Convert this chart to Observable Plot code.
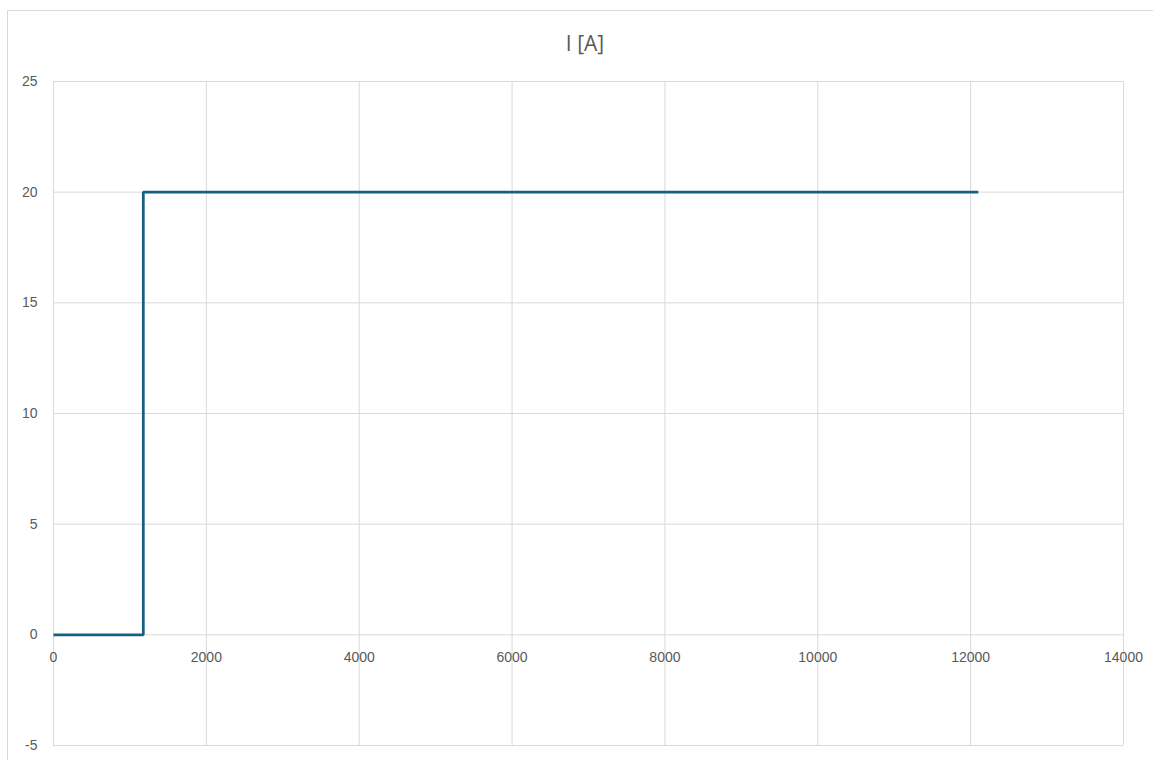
<!DOCTYPE html>
<html>
<head>
<meta charset="utf-8">
<script src="https://cdn.jsdelivr.net/npm/d3@7"></script>
<script src="https://cdn.jsdelivr.net/npm/@observablehq/plot@0.6"></script>
<style>
  html, body { margin: 0; padding: 0; background: #fff; }
  #chart {
    position: relative;
    width: 1153px;
    height: 760px;
    overflow: hidden;
    font-family: "Liberation Sans", Arial, sans-serif;
  }
  #border {
    position: absolute;
    left: 7px;
    top: 10px;
    width: 1200px;
    height: 800px;
    border-top: 1px solid #d9d9d9;
    border-left: 1px solid #d9d9d9;
    pointer-events: none;
  }
  #title {
    position: relative;
    height: 70px;
    box-sizing: border-box;
    padding-top: 29px;
    padding-left: 17px;
    text-align: center;
    font-family: "Open Sans", "Liberation Sans", sans-serif;
    font-size: 21px;
    color: #595959;
    line-height: 28px;
  }
  #plot svg { display: block; }
</style>
</head>
<body>
<div id="chart">
  <div id="border"></div>
  <div id="title">I [A]</div>
  <div id="plot"></div>
</div>
<script>
// Current step: zero until the switch-on time, then a constant 20 A
const time = [0, 1175, 1175, 12100];
const current = [0, 0, 20, 20];

const xTicks = [0, 2000, 4000, 6000, 8000, 10000, 12000, 14000];
const yTicks = [-5, 0, 5, 10, 15, 20, 25];

const points = time.map((t, i) => ({t, i: current[i]}));

const gridColor = "#d9d9d9";
const textColor = "#595959";

const plot = Plot.plot({
  width: 1153,
  height: 690,
  marginLeft: 53,
  marginRight: 30,
  marginTop: 11,
  marginBottom: 15,
  style: {fontFamily: "Liberation Sans, Arial, sans-serif", fontSize: "14px", color: textColor, background: "transparent"},
  x: {domain: [0, 14000], axis: null},
  y: {domain: [-5, 25], axis: null},
  marks: [
    Plot.gridX(xTicks, {stroke: gridColor, strokeOpacity: 1, strokeWidth: 1}),
    Plot.gridY(yTicks, {stroke: gridColor, strokeOpacity: 1, strokeWidth: 1}),
    Plot.axisY(yTicks, {tickSize: 0, tickPadding: 16, fill: textColor, fontSize: 14, label: null, tickFormat: d => String(d)}),
    // horizontal axis labels sit just under the zero line
    Plot.text(xTicks, {x: d => d, y: 0, dy: 23, text: d => String(d), fill: textColor, fontSize: 14}),
    Plot.line(points, {x: "t", y: "i", stroke: "#156082", strokeWidth: 2.75, strokeLinejoin: "miter", strokeLinecap: "butt"})
  ]
});

document.getElementById("plot").appendChild(plot);
</script>
</body>
</html>
